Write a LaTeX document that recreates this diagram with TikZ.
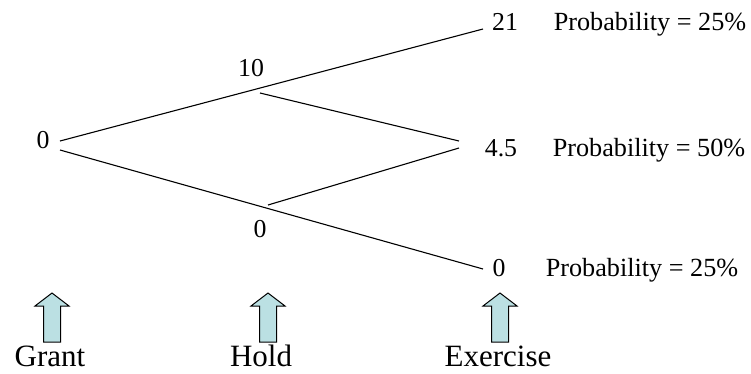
\documentclass[tikz,border=0pt]{standalone}
\usepackage{fontspec}
\setmainfont{Liberation Serif}
\definecolor{arrowfill}{RGB}{187,224,227}
\tikzset{
  val/.style={anchor=base, inner sep=0pt, font=\fontsize{25.8}{28}\selectfont},
  prob/.style={anchor=base, inner sep=0pt, font=\fontsize{26.2}{28}\selectfont},
  stage/.style={anchor=base, inner sep=0pt, font=\fontsize{31}{34}\selectfont},
  branch/.style={line width=1.1pt, black},
  uparrow/.style={draw=black, line width=1pt, fill=arrowfill, line join=miter}
}
\newcommand{\blockarrow}[2]{% center x, name
  \draw[uparrow] (#1,293) -- (#1+17,306) -- (#1+8.5,306) -- (#1+8.5,342)
    -- (#1-8.5,342) -- (#1-8.5,306) -- (#1-17,306) -- cycle;
}
\begin{document}
\begin{tikzpicture}[x=1pt,y=-1pt]
\useasboundingbox (0,0) rectangle (751,373);
% value nodes
\node[val] (n0) at (43,148) {0};
\node[val] (nu) at (251,76) {10};
\node[val] (nd) at (260,237) {0};
\node[val] (nuu) at (505,30) {21};
\node[val] (nud) at (501,156) {4.5};
\node[val] (ndd) at (499,276) {0};
% probabilities
\node[prob] (p1) at (650,30) {Probability = 25\%};
\node[prob] (p2) at (649,156) {Probability = 50\%};
\node[prob] (p3) at (642,276) {Probability = 25\%};
% connector end points
\coordinate (a1) at (60,141);
\coordinate (a2) at (60,150);
\coordinate (buu) at (483,29);
\coordinate (bdd) at (483,269);
\coordinate (cu) at (260,93);
\coordinate (cd) at (268,205);
\coordinate (eu) at (459,141);
\coordinate (ed) at (459,148);
% branches
\draw[branch] (a1) -- (buu);
\draw[branch] (a2) -- (bdd);
\draw[branch] (cu) -- (eu);
\draw[branch] (cd) -- (ed);
% stage arrows
\blockarrow{52}{ag}
\blockarrow{268}{ah}
\blockarrow{500}{ae}
\node[stage] (sg) at (50,366) {Grant};
\node[stage] (sh) at (261,366) {Hold};
\node[stage] (se) at (498,366) {Exercise};
\end{tikzpicture}
\end{document}
